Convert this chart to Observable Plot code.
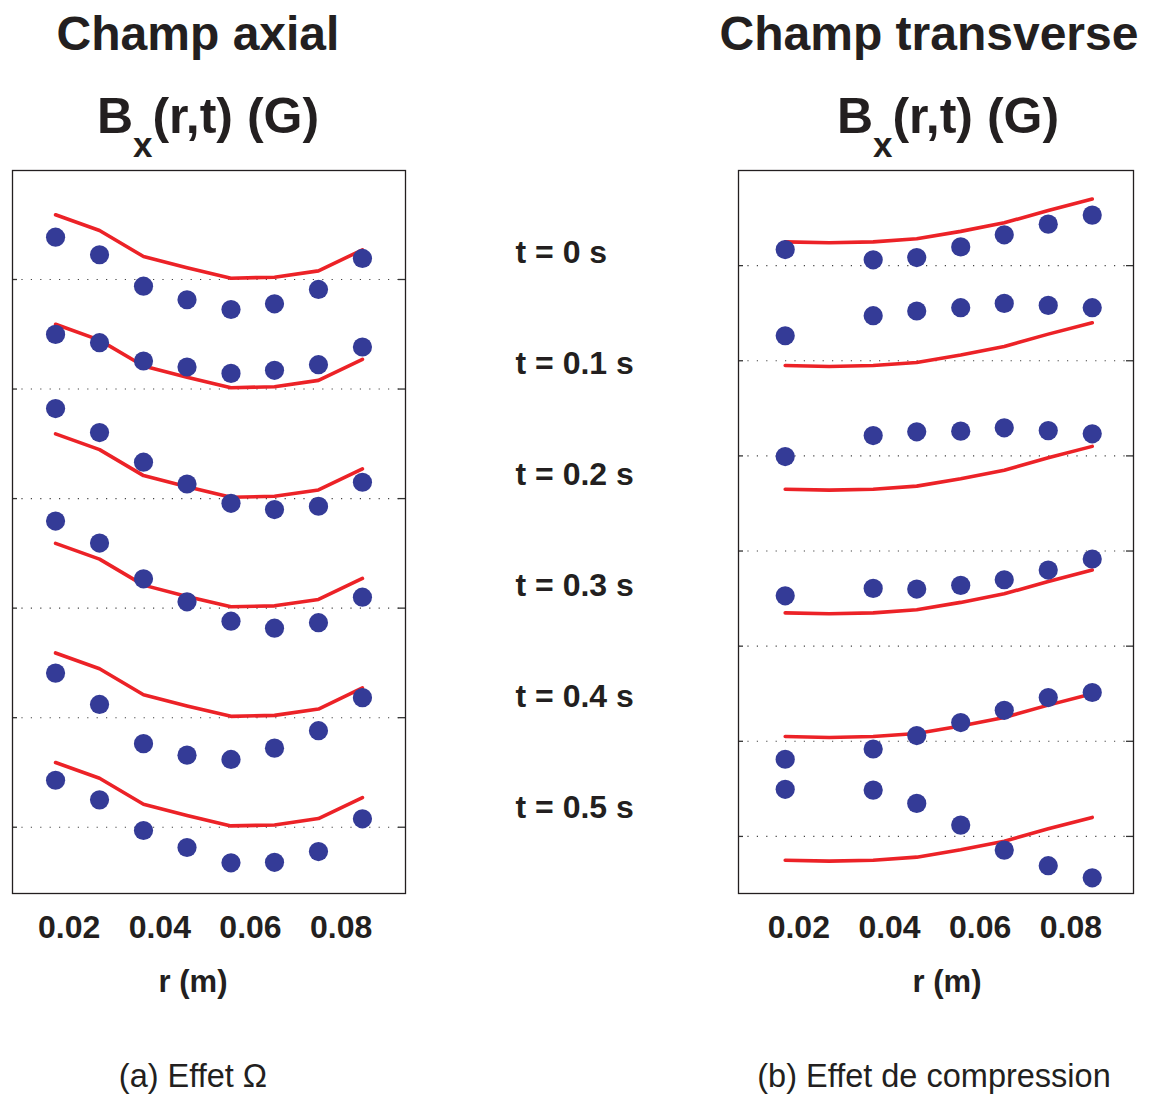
<!DOCTYPE html>
<html><head><meta charset="utf-8">
<script src="https://cdn.jsdelivr.net/npm/d3@7"></script>
<script src="https://cdn.jsdelivr.net/npm/@observablehq/plot@0.6"></script>
<style>
body{margin:0;background:#fff;}
#wrap{position:relative;width:1149px;height:1094px;font-family:"Liberation Sans",Arial,Helvetica,sans-serif;color:#231f20;overflow:hidden;}
.ttl{position:absolute;font-weight:bold;font-size:48px;line-height:48px;white-space:nowrap;transform:translateX(-50%);}
.ttl2{font-size:50px;line-height:50px;}
.cap{position:absolute;font-size:32.5px;line-height:32px;white-space:nowrap;transform:translateX(-50%);}
.sub{font-size:35px;position:relative;top:24px;}
.panel{position:absolute;}
</style></head><body><div id="wrap">
<div class="ttl" style="left:198px;top:10px">Champ axial</div>
<div class="ttl ttl2" style="left:208px;top:91px">B<span class="sub">x</span>(r,t) (G)</div>
<div class="ttl" style="left:929px;top:10px">Champ transverse</div>
<div class="ttl ttl2" style="left:948px;top:91px">B<span class="sub">x</span>(r,t) (G)</div>
<div class="cap" style="left:193px;top:1060px">(a) Effet Ω</div>
<div class="cap" style="left:934px;top:1060px">(b) Effet de compression</div>
<div class="panel" id="left" style="left:0px;top:160px"></div>
<div class="panel" id="mid" style="left:500px;top:0px"></div>
<div class="panel" id="right" style="left:720px;top:160px"></div>
</div>
<script>
// ---- data (y in grid units, one dotted line = 1 unit) ----
const radius = [0.0170, 0.0267, 0.0364, 0.0460, 0.0557, 0.0653, 0.0750, 0.0847];
const times = [0, 0.1, 0.2, 0.3, 0.4, 0.5];
const timeLabels = ["t = 0 s", "t = 0.1 s", "t = 0.2 s", "t = 0.3 s", "t = 0.4 s", "t = 0.5 s"];
const xTicks = [0.02, 0.04, 0.06, 0.08];

// (a) axial field
const axialOffsets = [5, 4, 3, 2, 1, 0];
const axialGrid = [0, 1, 2, 3, 4, 5];
const axialModel = [0.591, 0.447, 0.210, 0.107, 0.012, 0.021, 0.079, 0.271];
const axial_t0  = [0.386, 0.226, -0.061, -0.185, -0.274, -0.222, -0.091, 0.192];
const axial_t01 = [0.499, 0.423, 0.256, 0.201, 0.143, 0.171, 0.222, 0.384];
const axial_t02 = [0.822, 0.603, 0.332, 0.133, -0.043, -0.100, -0.070, 0.149];
const axial_t03 = [0.795, 0.594, 0.268, 0.058, -0.119, -0.183, -0.133, 0.100];
const axial_t04 = [0.407, 0.121, -0.237, -0.342, -0.381, -0.278, -0.119, 0.183];
const axial_t05 = [0.429, 0.250, -0.030, -0.185, -0.325, -0.320, -0.222, 0.077];

// (b) transverse field
const transverseOffsets = [6.25, 4.95, 3.65, 2.35, 1.05, -0.25];
const transverseGrid = [0, 1, 2, 3, 4, 5, 6];
const transverseModel = [0, -0.010, 0, 0.032, 0.110, 0.200, 0.330, 0.450];
const transverse_t0  = [-0.081, null, -0.189, -0.165, -0.053, 0.074, 0.186, 0.281];
const transverse_t01 = [0.313, null, 0.524, 0.573, 0.608, 0.653, 0.632, 0.608];
const transverse_t02 = [0.343, null, 0.564, 0.603, 0.610, 0.645, 0.616, 0.582];
const transverse_t03 = [0.179, null, 0.257, 0.250, 0.289, 0.348, 0.450, 0.566];
const transverse_t04 = [-0.239, null, -0.131, 0.010, 0.147, 0.276, 0.410, 0.463];
const transverse_t05 = [0.745, null, 0.737, 0.597, 0.369, 0.106, -0.058, -0.185];

const FONT = '"Liberation Sans", Arial, Helvetica, sans-serif';

function panel({xDomain, yDomain, grid, model, measured, offsets, mL, mR, width, labelDx}) {
  const height = 860, mT = 10, mB = 860 - 10 - 723;
  const lineRows = [], dotRows = [];
  times.forEach((t, i) => {
    radius.forEach((r, j) => {
      lineRows.push({t, r, v: offsets[i] + model[j]});
      if (measured[i][j] != null) dotRows.push({t, r, v: offsets[i] + measured[i][j]});
    });
  });
  const frameW = width - mL - mR;
  return Plot.plot({
    width, height, marginLeft: mL, marginRight: mR, marginTop: mT, marginBottom: mB,
    style: {fontFamily: FONT, fontWeight: "bold", color: "#231f20", background: "transparent", overflow: "visible"},
    x: {domain: xDomain, label: null},
    y: {domain: yDomain, axis: null, label: null},
    marks: [
      Plot.ruleY(grid, {stroke: "#444", strokeDasharray: "1.2,8.2", strokeWidth: 1.1}),
      Plot.tickY(grid, {y: d => d, stroke: "#333", strokeWidth: 1.3, insetRight: frameW - 5}),
      Plot.tickY(grid, {y: d => d, stroke: "#333", strokeWidth: 1.3, insetLeft: frameW - 7}),
      Plot.line(lineRows, {x: "r", y: "v", z: "t", stroke: "#ec2227", strokeWidth: 3.6}),
      Plot.dot(dotRows, {x: "r", y: "v", r: 9.6, fill: "#343b97", stroke: "none"}),
      Plot.frame({stroke: "#231f20", strokeWidth: 1.3}),
      Plot.axisX(xTicks, {tickSize: 0, tickPadding: 22, fontSize: 32, tickFormat: d3.format(".2f"), label: null}),
      Plot.text(["r (m)"], {frameAnchor: "bottom", dy: 98, dx: labelDx, fontSize: 31, text: d => d})
    ]
  });
}

document.getElementById("left").append(panel({
  xDomain: [0.0075, 0.0942], yDomain: [-0.605, 5.995], grid: axialGrid,
  model: axialModel, measured: [axial_t0, axial_t01, axial_t02, axial_t03, axial_t04, axial_t05],
  offsets: axialOffsets, mL: 12, mR: 15, width: 420, labelDx: -16
}));

document.getElementById("right").append(panel({
  xDomain: [0.0067, 0.0938], yDomain: [-0.6, 7.0], grid: transverseGrid,
  model: transverseModel, measured: [transverse_t0, transverse_t01, transverse_t02, transverse_t03, transverse_t04, transverse_t05],
  offsets: transverseOffsets, mL: 18, mR: 16, width: 429, labelDx: 11
}));

document.getElementById("mid").append(Plot.plot({
  width: 200, height: 900, marginTop: 250, marginBottom: 92, marginLeft: 15, marginRight: 0,
  style: {fontFamily: FONT, fontWeight: "bold", color: "#231f20", background: "transparent", overflow: "visible"},
  y: {type: "point", domain: timeLabels, padding: 0, axis: null},
  marks: [
    Plot.text(timeLabels, {y: d => d, text: d => d, frameAnchor: "left", textAnchor: "start", fontSize: 32})
  ]
}));
</script>
</body></html>
